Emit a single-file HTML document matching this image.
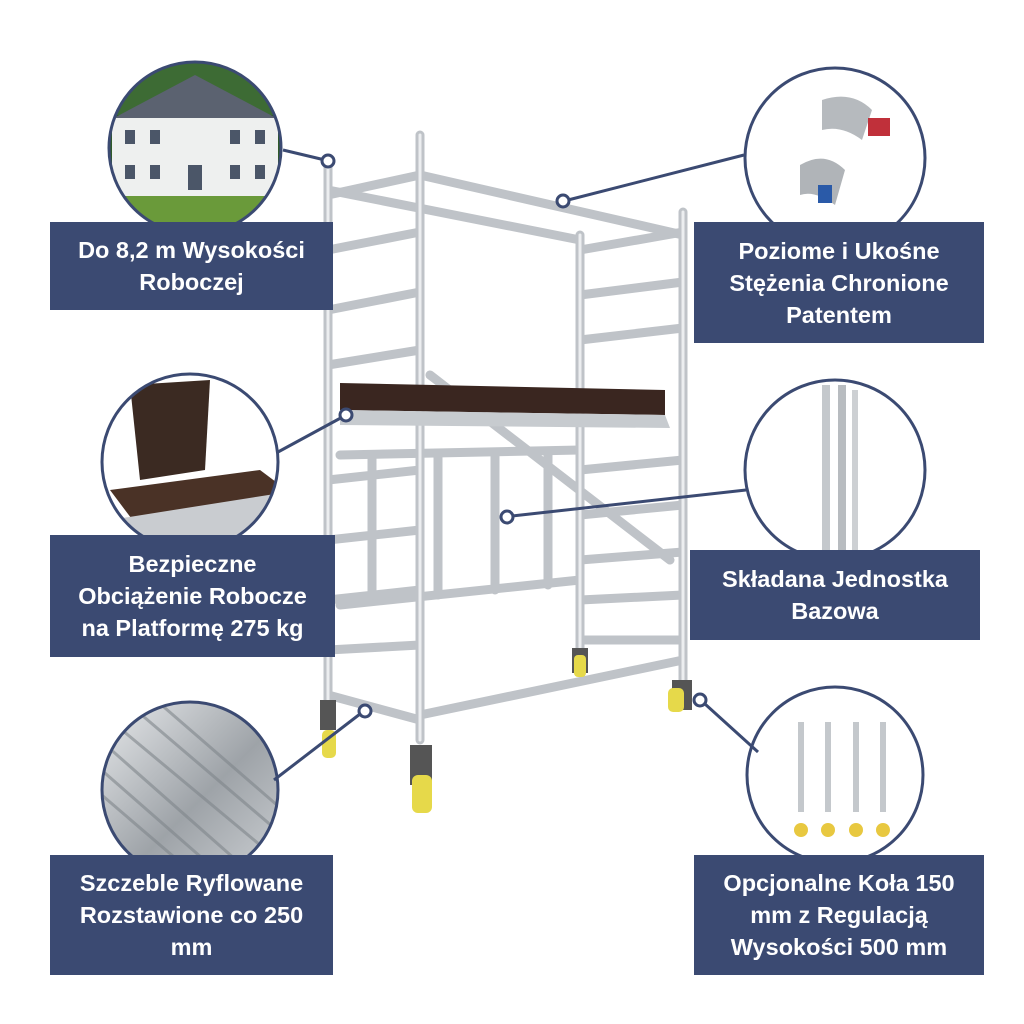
<!DOCTYPE html>
<html><head><meta charset="utf-8">
<style>
html,body{margin:0;padding:0;background:#fff;}
.wrap{position:relative;width:1024px;height:1024px;overflow:hidden;background:#fff;}
.box{position:absolute;background:#3b4a72;color:#fff;font-family:"Liberation Sans",sans-serif;font-weight:bold;font-size:23.5px;line-height:32px;text-align:center;display:flex;align-items:center;justify-content:center;}
svg{position:absolute;left:0;top:0;}
</style></head><body><div class="wrap">
<svg width="1024" height="1024" viewBox="0 0 1024 1024">
<defs>
<clipPath id="c1"><circle cx="195" cy="148" r="86"/></clipPath>
<clipPath id="c2"><circle cx="835" cy="158" r="90"/></clipPath>
<clipPath id="c3"><circle cx="190" cy="462" r="88"/></clipPath>
<clipPath id="c4"><circle cx="835" cy="470" r="90"/></clipPath>
<clipPath id="c5"><circle cx="190" cy="790" r="88"/></clipPath>
<clipPath id="c6"><circle cx="835" cy="775" r="88"/></clipPath>
<linearGradient id="rib" x1="0" y1="0" x2="1" y2="1">
<stop offset="0" stop-color="#e8eaec"/><stop offset="0.5" stop-color="#9ea3a8"/><stop offset="1" stop-color="#d8dbde"/></linearGradient>
</defs>
<g clip-path="url(#c1)">
<rect x="100" y="55" width="200" height="200" fill="#2f5a2a"/>
<rect x="100" y="55" width="200" height="60" fill="#3d6b34"/>
<polygon points="110,120 195,75 280,120" fill="#5b6270"/>
<rect x="112" y="118" width="166" height="78" fill="#eef0ef"/>
<g fill="#4b5668"><rect x="125" y="130" width="10" height="14"/><rect x="150" y="130" width="10" height="14"/><rect x="230" y="130" width="10" height="14"/><rect x="255" y="130" width="10" height="14"/><rect x="125" y="165" width="10" height="14"/><rect x="150" y="165" width="10" height="14"/><rect x="230" y="165" width="10" height="14"/><rect x="255" y="165" width="10" height="14"/><rect x="188" y="165" width="14" height="25"/></g>
<rect x="100" y="196" width="200" height="60" fill="#6a9a3a"/>
</g>
<g clip-path="url(#c2)"><rect x="740" y="60" width="200" height="200" fill="#fff"/>
<path d="M822,100 q30,-10 50,10 l-10,30 q-20,-15 -40,-10z" fill="#b6babe"/>
<rect x="868" y="118" width="22" height="18" fill="#c0303a"/>
<path d="M800,165 q25,-15 45,5 l-10,35 q-20,-15 -35,-10z" fill="#b0b4b8"/>
<rect x="818" y="185" width="14" height="18" fill="#2a5aa8"/></g>
<g clip-path="url(#c3)"><rect x="100" y="370" width="200" height="200" fill="#fff"/>
<polygon points="130,385 210,380 205,470 140,480" fill="#3b2a22"/>
<polygon points="110,490 260,470 300,500 140,530" fill="#4a3226"/>
<polygon points="110,520 300,490 300,540 110,560" fill="#c9ccd0"/></g>
<g clip-path="url(#c4)"><rect x="740" y="375" width="200" height="200" fill="#fff"/>
<rect x="822" y="385" width="8" height="170" fill="#c4c8cc"/><rect x="838" y="385" width="8" height="170" fill="#b8bcc0"/><rect x="852" y="390" width="6" height="160" fill="#cdd0d3"/></g>
<g clip-path="url(#c5)"><rect x="100" y="700" width="200" height="200" fill="url(#rib)"/>
<g stroke="#7f858b" stroke-width="3" opacity="0.6">
<line x1="90" y1="760" x2="250" y2="900"/><line x1="100" y1="740" x2="270" y2="890"/><line x1="110" y1="720" x2="290" y2="870"/><line x1="130" y1="705" x2="300" y2="850"/><line x1="150" y1="695" x2="300" y2="825"/><line x1="90" y1="785" x2="230" y2="905"/></g></g>
<g clip-path="url(#c6)"><rect x="740" y="685" width="200" height="200" fill="#fff"/>
<g fill="#c4c8cc"><rect x="798" y="722" width="6" height="90"/><rect x="825" y="722" width="6" height="90"/><rect x="853" y="722" width="6" height="90"/><rect x="880" y="722" width="6" height="90"/></g>
<g fill="#e8c840"><circle cx="801" cy="830" r="7"/><circle cx="828" cy="830" r="7"/><circle cx="856" cy="830" r="7"/><circle cx="883" cy="830" r="7"/></g></g>
<g fill="none" stroke="#3b4a72" stroke-width="3">
<circle cx="195" cy="148" r="86"/><circle cx="835" cy="158" r="90"/><circle cx="190" cy="462" r="88"/>
<circle cx="835" cy="470" r="90"/><circle cx="190" cy="790" r="88"/><circle cx="835" cy="775" r="88"/></g>

<g stroke="#bfc3c8" stroke-width="9" stroke-linecap="round">
<line x1="580" y1="235" x2="580" y2="665"/><line x1="683" y1="212" x2="683" y2="690"/>
<line x1="580" y1="250" x2="683" y2="232"/><line x1="580" y1="295" x2="683" y2="282"/><line x1="580" y1="340" x2="683" y2="328"/>
<line x1="580" y1="470" x2="683" y2="460"/><line x1="580" y1="515" x2="683" y2="505"/><line x1="580" y1="560" x2="683" y2="552"/><line x1="580" y1="600" x2="683" y2="595"/><line x1="580" y1="640" x2="683" y2="640"/>
<line x1="420" y1="175" x2="683" y2="235"/><line x1="328" y1="190" x2="580" y2="240"/>
<line x1="420" y1="715" x2="683" y2="660"/><line x1="340" y1="605" x2="580" y2="580"/>
<line x1="340" y1="455" x2="580" y2="450"/>
<line x1="430" y1="375" x2="670" y2="560"/>
<line x1="372" y1="455" x2="372" y2="600"/><line x1="438" y1="455" x2="438" y2="595"/><line x1="495" y1="455" x2="495" y2="590"/><line x1="548" y1="455" x2="548" y2="585"/>
<line x1="328" y1="165" x2="328" y2="700"/><line x1="420" y1="135" x2="420" y2="740"/>
<line x1="328" y1="195" x2="420" y2="175"/><line x1="328" y1="250" x2="420" y2="232"/><line x1="328" y1="310" x2="420" y2="292"/><line x1="328" y1="365" x2="420" y2="350"/>
<line x1="328" y1="480" x2="420" y2="470"/><line x1="328" y1="540" x2="420" y2="530"/><line x1="328" y1="600" x2="420" y2="590"/><line x1="328" y1="650" x2="420" y2="645"/><line x1="328" y1="695" x2="420" y2="720"/>
</g>
<g stroke="#eceef0" stroke-width="3" stroke-linecap="round">
<line x1="328" y1="165" x2="328" y2="700"/><line x1="420" y1="135" x2="420" y2="740"/><line x1="580" y1="235" x2="580" y2="665"/><line x1="683" y1="212" x2="683" y2="690"/>
</g>
<polygon points="340,383 665,390 665,415 340,410" fill="#3a2620"/>
<polygon points="340,410 665,415 670,428 340,425" fill="#c7cbcf"/>
<g fill="#555"><rect x="320" y="700" width="16" height="30"/><rect x="410" y="745" width="22" height="40"/><rect x="572" y="648" width="16" height="25"/><rect x="672" y="680" width="20" height="30"/></g>
<g fill="#e6d94a"><rect x="322" y="730" width="14" height="28" rx="5"/><rect x="412" y="775" width="20" height="38" rx="6"/><rect x="574" y="655" width="12" height="22" rx="4"/><rect x="668" y="688" width="16" height="24" rx="5"/></g>

<g stroke="#3b4a72" stroke-width="3" fill="none">
<line x1="283" y1="150" x2="325" y2="160"/>
<line x1="744" y1="155" x2="568" y2="200"/>
<line x1="278" y1="452" x2="348" y2="414"/>
<line x1="746" y1="490" x2="512" y2="516"/>
<line x1="274" y1="780" x2="360" y2="714"/>
<line x1="758" y1="752" x2="705" y2="704"/>
</g>
<g fill="#fff" stroke="#3b4a72" stroke-width="3">
<circle cx="328" cy="161" r="6"/><circle cx="563" cy="201" r="6"/><circle cx="346" cy="415" r="6"/>
<circle cx="507" cy="517" r="6"/><circle cx="365" cy="711" r="6"/><circle cx="700" cy="700" r="6"/></g>
</svg>
<div class="box" style="left:50px;top:222px;width:283px;height:88px;">Do 8,2 m Wysokości<br>Roboczej</div>
<div class="box" style="left:694px;top:222px;width:290px;height:121px;">Poziome i Ukośne<br>Stężenia Chronione<br>Patentem</div>
<div class="box" style="left:50px;top:535px;width:285px;height:122px;">Bezpieczne<br>Obciążenie Robocze<br>na Platformę 275 kg</div>
<div class="box" style="left:690px;top:550px;width:290px;height:90px;">Składana Jednostka<br>Bazowa</div>
<div class="box" style="left:50px;top:855px;width:283px;height:120px;">Szczeble Ryflowane<br>Rozstawione co 250<br>mm</div>
<div class="box" style="left:694px;top:855px;width:290px;height:120px;">Opcjonalne Koła 150<br>mm z Regulacją<br>Wysokości 500 mm</div>
</div></body></html>
